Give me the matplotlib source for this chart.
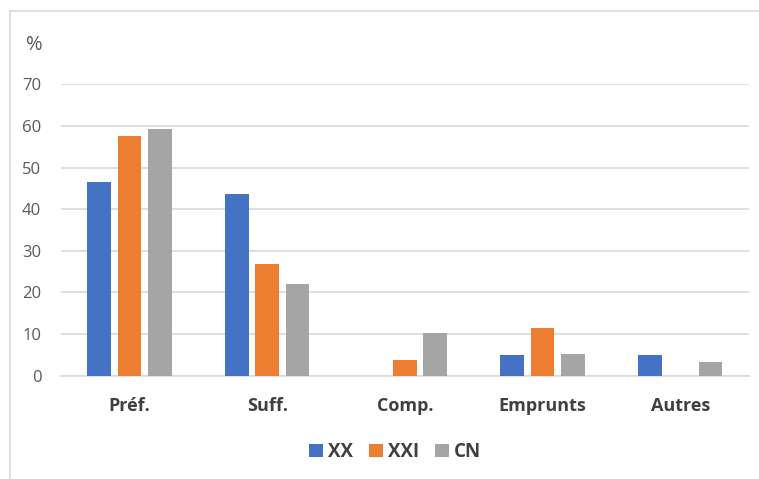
import numpy as np
import matplotlib
matplotlib.use('Agg')
from matplotlib import pyplot as plt
from matplotlib.lines import Line2D

categories = ['Préf.', 'Suff.', 'Comp.', 'Emprunts', 'Autres']
series_names = ['XX', 'XXI', 'CN']
xx = [46.6, 43.6, 0.0, 4.9, 4.9]
xxi = [57.6, 26.9, 3.8, 11.4, 0.0]
cn = [59.2, 22.0, 10.3, 5.1, 3.3]
y_ticks = [0, 10, 20, 30, 40, 50, 60, 70]

colors = ['#4472C4', '#ED7D31', '#A5A5A5']
grid_color = '#D9D9D9'
text_color = '#595959'

plt.rcParams['font.family'] = ['Open Sans', 'DejaVu Sans']

fig = plt.figure(figsize=(7.59, 4.79), dpi=100)
ax = fig.add_axes([0.080, 0.2157, 0.9068, 0.6083])

x = np.arange(len(categories))
width = 0.172
step = 0.221
for i, (vals, name) in enumerate(zip([xx, xxi, cn], series_names)):
    ax.bar(x + (i - 1) * step, vals, width, color=colors[i], label=name,
           zorder=3)

ax.set_xlim(-0.5, len(categories) - 0.5)
ax.set_ylim(0, 70)
ax.set_yticks(y_ticks)
ax.set_yticklabels([str(t) for t in y_ticks], fontsize=12, color=text_color)
ax.set_xticks(x)
ax.set_xticklabels(categories, fontsize=13, fontweight='bold',
                   color='#404040')
ax.tick_params(axis='both', length=0)
ax.tick_params(axis='y', pad=14)
ax.tick_params(axis='x', pad=15)
ax.yaxis.grid(True, color=grid_color, linewidth=1.2, zorder=0)
for side in ['top', 'right', 'left']:
    ax.spines[side].set_visible(False)
ax.spines['bottom'].set_color(grid_color)
ax.spines['bottom'].set_linewidth(1.2)

fig.text(26 / 759, 1 - 45 / 479, '%', fontsize=14.5, color=text_color,
         ha='left', va='center')

# chart border (cropped on right and bottom)
fig.add_artist(Line2D([9.5 / 759, 9.5 / 759], [0, 1 - 11 / 479],
                      transform=fig.transFigure, color=grid_color, lw=1.2))
fig.add_artist(Line2D([9.5 / 759, 1], [1 - 11 / 479, 1 - 11 / 479],
                      transform=fig.transFigure, color=grid_color, lw=1.2))

leg = fig.legend(loc='center', bbox_to_anchor=(395 / 759, 1 - 452 / 479),
                 ncol=3, frameon=False, handlelength=0.75, handleheight=0.75,
                 handletextpad=0.25, columnspacing=0.85, fontsize=13.5)
for t in leg.get_texts():
    t.set_fontweight('bold')
    t.set_color('#404040')

fig.savefig('out.png', dpi=100)
